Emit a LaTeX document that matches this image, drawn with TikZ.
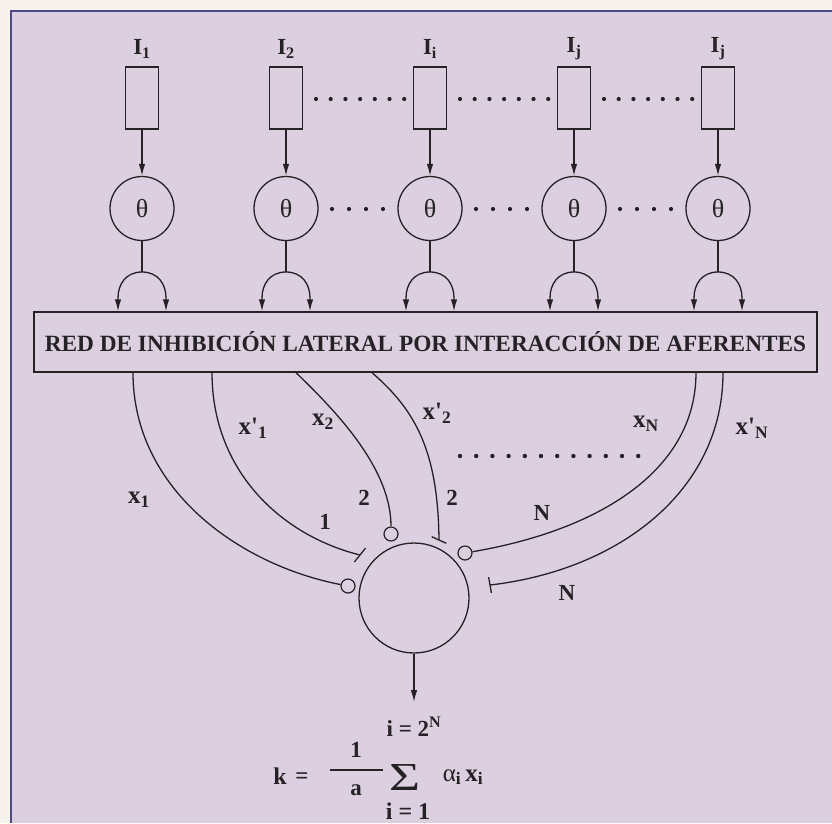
\documentclass[tikz,border=0pt]{standalone}
\usepackage{fontspec}
\usepackage{graphicx}
\setmainfont{Liberation Serif}
\usetikzlibrary{arrows.meta}
\definecolor{paper}{HTML}{F7F3EC}
\definecolor{lilac}{HTML}{DCCFDF}
\definecolor{rim}{HTML}{4C4A88}
\definecolor{ink}{HTML}{252226}
\newcommand{\fsz}[1]{\fontsize{#1}{#1}\selectfont}
\tikzset{
  wire/.style={draw=ink, line width=1.3pt},
  arr/.style={wire, -{Latex[length=12pt,width=6.5pt]}},
  inbox/.style={draw=ink, line width=1.3pt, minimum width=33pt, minimum height=62pt, inner sep=0pt},
  thcell/.style={circle, draw=ink, line width=1.3pt, minimum size=64pt, inner sep=0pt,
    text=ink, font=\fsz{26}},
  syn/.style={circle, draw=ink, line width=1.2pt, minimum size=14pt, inner sep=0pt},
  lbl/.style={inner sep=0pt, text=ink, font=\bfseries\fsz{23}},
  ilbl/.style={lbl, font=\bfseries\fsz{23}},
  xlbl/.style={lbl, font=\bfseries\fsz{25}},
  flbl/.style={lbl, font=\bfseries\fsz{23}},
}
\begin{document}
\begin{tikzpicture}[x=1pt, y=-1pt]
  % sheet and lilac panel
  \useasboundingbox (0,0) rectangle (832,823);
  \fill[paper] (0,0) rectangle (832,823);
  \fill[lilac] (10,10) rectangle (832,823);
  \draw[rim, line width=2pt] (10.5,823) -- (10.5,10.5) -- (832,10.5);

  % lateral inhibition network
  \node[draw=ink, line width=1.3pt, minimum width=783pt, minimum height=60pt, inner sep=0pt,
        text=ink, font=\bfseries\fsz{23.3}]
    (red) at (425.5,342) {RED DE INHIBICIÓN LATERAL POR INTERACCIÓN DE AFERENTES};

  % input channels
  \foreach \i/\x/\s in {1/142/1, 2/286/2, 3/430/i, 4/574/j, 5/718/j} {
    \node[ilbl] (lab\i) at (\x,49) {I\textsubscript{\s}};
    \node[inbox] (in\i) at (\x,98) {};
    \node[thcell] (th\i) at (\x,208.5) {θ};
    \draw[arr] (in\i) -- (th\i);
    \coordinate (j\i) at (\x,272);
    \draw[wire] (th\i) -- (j\i);
    \draw[arr] (j\i) .. controls ({\x-16},272) and ({\x-24},284) .. ({\x-24},298)
               -- ({\x-24},0 |- red.north);
    \draw[arr] (j\i) .. controls ({\x+16},272) and ({\x+24},284) .. ({\x+24},298)
               -- ({\x+24},0 |- red.north);
  }
  % dotted gaps between channels
  \foreach \a in {286,430,574} {
    \foreach \k in {0,...,6} \fill[ink] ({\a+30+\k*14.7},99) circle (2.1pt);
    \foreach \k in {0,...,3} \fill[ink] ({\a+46+\k*17},209) circle (2.1pt);
  }

  % output cell and its synapses
  \node[circle, draw=ink, line width=1.3pt, minimum size=110pt, inner sep=0pt] (cell) at (414,598) {};
  \node[syn] (s1) at (348,586) {};
  \node[syn] (s2) at (391,534) {};
  \node[syn] (sN) at (465,553) {};
  \coordinate (b1) at (360,555);
  \coordinate (b2) at (439,540);
  \coordinate (bN) at (490,585);

  \draw[wire] (133,0 |- red.south) .. controls (133,490) and (240,565) .. (s1);
  \draw[wire] (212,0 |- red.south) .. controls (212,470) and (280,535) .. (b1);
  \draw[wire] (296,0 |- red.south) .. controls (340,415) and (391,470) .. (s2);
  \draw[wire] (372,0 |- red.south) .. controls (415,410) and (438,450) .. (b2);
  \draw[wire] (696,0 |- red.south) .. controls (696,470) and (600,530) .. (sN);
  \draw[wire] (723,0 |- red.south) .. controls (723,490) and (620,570) .. (bN);

  % inhibitory bars
  \draw[wire, shift={(b1)}] (-5.6,7) -- (5.6,-7);
  \draw[wire, shift={(b2)}] (-7.3,-3.3) -- (7.3,3.3);
  \draw[wire, shift={(bN)}] (-1.4,-7.9) -- (1.4,7.9);

  % fibre labels
  \node[xlbl] (lx1)  at (139,500) {x\textsubscript{1}};
  \node[xlbl] (lxp1) at (253,428) {x\textquotesingle\textsubscript{1}};
  \node[xlbl] (lx2)  at (323,422) {x\textsubscript{2}};
  \node[xlbl] (lxp2) at (437,413) {x\textquotesingle\textsubscript{2}};
  \node[xlbl] (lxN)  at (646,424) {x\textsubscript{N}};
  \node[xlbl] (lxpN) at (752,428) {x\textquotesingle\textsubscript{N}};
  \node[lbl] (n1)  at (325,522) {1};
  \node[lbl] (n2a) at (364,498) {2};
  \node[lbl] (n2b) at (452,498) {2};
  \node[lbl] (nNa) at (542,513) {N};
  \node[lbl] (nNb) at (567,593) {N};
  \foreach \k in {0,...,11} \fill[ink] ({460+\k*16.2},456) circle (2.2pt);

  % output
  \coordinate (out) at (414,702);
  \draw[arr] (cell) -- (out);

  % response formula
  \node[flbl, font=\bfseries\fsz{24}] (k) at (280,776) {k};
  \node[flbl] (eq)  at (302,778) {=};
  \draw[ink, line width=1.4pt] (330,770) -- (383,770);
  \node[flbl] (one) at (356,750) {1};
  \node[flbl] (den) at (356,790) {a};
  \node[inner sep=0pt, text=ink, font=\fsz{20}] (sig) at (405,777) {\resizebox{31pt}{26pt}{Σ}};
  \node[flbl, font=\bfseries\fsz{25}] (ax) at (463,777) {{\mdseries α}\textsubscript{i}\,x\textsubscript{i}};
  \node[flbl] (top) at (414,727) {i = 2\textsuperscript{N}};
  \node[flbl, font=\bfseries\fsz{24}] (bot) at (408,811) {i = 1};
\end{tikzpicture}
\end{document}
